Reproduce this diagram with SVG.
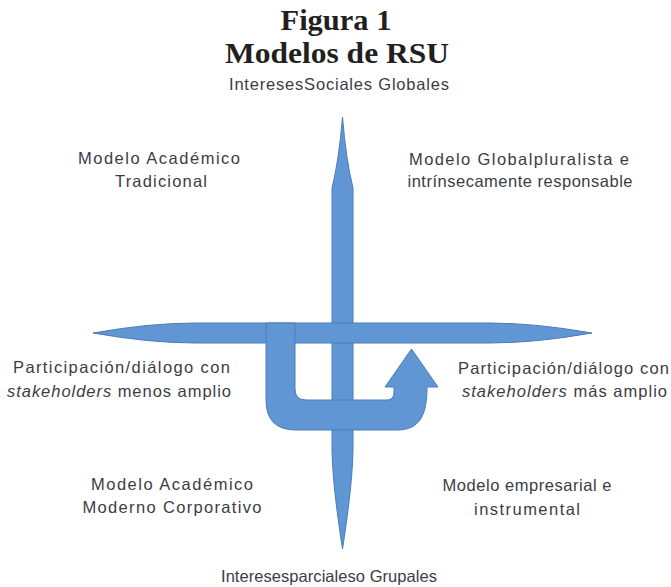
<svg xmlns="http://www.w3.org/2000/svg" width="671" height="587" viewBox="0 0 671 587">
<style>
.shape{fill:#6196D4;stroke:#4A7CBA;stroke-width:1;stroke-linejoin:round}
.title{font-family:"Liberation Serif","Times New Roman",serif;font-weight:bold;font-size:30px;fill:#231f20;text-anchor:middle}
.lbl{font-family:"Liberation Sans",Arial,sans-serif;font-size:16.5px;fill:#3c3c46}
.c{text-anchor:middle}
.it{font-style:italic}
</style>
<rect width="671" height="587" fill="#ffffff"/>
<g id="title">
<text class="title" x="336" y="30" textLength="111" lengthAdjust="spacingAndGlyphs">Figura 1</text>
<text class="title" x="337" y="63" textLength="224" lengthAdjust="spacingAndGlyphs">Modelos de RSU</text>
</g>
<g id="connectors">
<path id="vertical-axis" class="shape" d="M342.5 117 Q346 160 353 188 L353 450 C352.5 480 347 520 342.5 549 C338 520 332.5 480 332 450 L332 188 Q339 160 342.5 117 Z"/>
<path id="horizontal-axis" class="shape" d="M93 333 Q150 323 195 323 L490 323 Q535 323 592 333 Q535 343 490 343 L195 343 Q150 343 93 333 Z"/>
<path id="u-arrow" class="shape" d="M266 323 L295 323 L295 389 Q295 400 306 400 L387 400 Q394 400 394 392 L394 387 L385 387 L411.5 349 L438 387 L427 387 C427 415 420 430 397 430 L296 430 Q266 430 266 400 Z"/>
</g>
<g id="node-top">
<text class="lbl c" x="339" y="90" textLength="220">InteresesSociales Globales</text>
</g>
<g id="node-top-left">
<text class="lbl c" x="159" y="164" textLength="162">Modelo Académico</text>
<text class="lbl c" x="161" y="187" textLength="92">Tradicional</text>
</g>
<g id="node-top-right">
<text class="lbl c" x="519" y="165" textLength="220">Modelo Globalpluralista e</text>
<text class="lbl c" x="520" y="187" textLength="225">intrínsecamente responsable</text>
</g>
<g id="node-left">
<text class="lbl" x="13" y="373" textLength="217">Participación/diálogo con</text>
<text class="lbl" x="7" y="397" textLength="224"><tspan class="it">stakeholders</tspan> menos amplio</text>
</g>
<g id="node-right">
<text class="lbl" x="458" y="374" textLength="211">Participación/diálogo con</text>
<text class="lbl" x="462" y="397" textLength="205"><tspan class="it">stakeholders</tspan> más amplio</text>
</g>
<g id="node-bottom-left">
<text class="lbl c" x="172" y="490" textLength="162">Modelo Académico</text>
<text class="lbl c" x="172" y="513" textLength="179">Moderno Corporativo</text>
</g>
<g id="node-bottom-right">
<text class="lbl c" x="527" y="491" textLength="169">Modelo empresarial e</text>
<text class="lbl c" x="527" y="515" textLength="106">instrumental</text>
</g>
<g id="node-bottom">
<text class="lbl c" x="329" y="582" textLength="216">Interesesparcialeso Grupales</text>
</g>
</svg>
